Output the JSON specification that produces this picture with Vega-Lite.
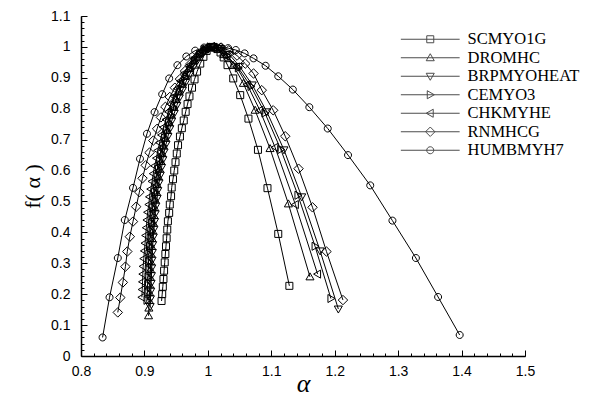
{
  "$schema": "https://vega.github.io/schema/vega-lite/v6.json",
  "width": 444,
  "height": 340,
  "autosize": "none",
  "padding": {"left": 81, "top": 16, "right": 85, "bottom": 43},
  "background": "white",
  "config": {"view": {"stroke": null}},
  "data": {"values": [
    {"s":"SCMYO1G","a":0.927,"f":0.178},{"s":"SCMYO1G","a":0.928,"f":0.200},{"s":"SCMYO1G","a":0.929,"f":0.224},{"s":"SCMYO1G","a":0.930,"f":0.249},{"s":"SCMYO1G","a":0.931,"f":0.276},{"s":"SCMYO1G","a":0.932,"f":0.303},{"s":"SCMYO1G","a":0.933,"f":0.330},{"s":"SCMYO1G","a":0.934,"f":0.355},{"s":"SCMYO1G","a":0.935,"f":0.381},{"s":"SCMYO1G","a":0.936,"f":0.409},{"s":"SCMYO1G","a":0.937,"f":0.436},{"s":"SCMYO1G","a":0.939,"f":0.463},{"s":"SCMYO1G","a":0.940,"f":0.490},{"s":"SCMYO1G","a":0.942,"f":0.517},{"s":"SCMYO1G","a":0.943,"f":0.545},{"s":"SCMYO1G","a":0.945,"f":0.572},{"s":"SCMYO1G","a":0.947,"f":0.600},{"s":"SCMYO1G","a":0.949,"f":0.627},{"s":"SCMYO1G","a":0.951,"f":0.655},{"s":"SCMYO1G","a":0.953,"f":0.682},{"s":"SCMYO1G","a":0.956,"f":0.710},{"s":"SCMYO1G","a":0.959,"f":0.737},{"s":"SCMYO1G","a":0.962,"f":0.762},{"s":"SCMYO1G","a":0.965,"f":0.790},{"s":"SCMYO1G","a":0.968,"f":0.815},{"s":"SCMYO1G","a":0.971,"f":0.840},{"s":"SCMYO1G","a":0.975,"f":0.868},{"s":"SCMYO1G","a":0.979,"f":0.895},{"s":"SCMYO1G","a":0.983,"f":0.920},{"s":"SCMYO1G","a":0.988,"f":0.946},{"s":"SCMYO1G","a":0.993,"f":0.968},{"s":"SCMYO1G","a":0.998,"f":0.987},{"s":"SCMYO1G","a":1.003,"f":0.998},{"s":"SCMYO1G","a":1.009,"f":1.000},{"s":"SCMYO1G","a":1.015,"f":0.993},{"s":"SCMYO1G","a":1.020,"f":0.982},{"s":"SCMYO1G","a":1.025,"f":0.966},{"s":"SCMYO1G","a":1.031,"f":0.941},{"s":"SCMYO1G","a":1.040,"f":0.898},{"s":"SCMYO1G","a":1.051,"f":0.844},{"s":"SCMYO1G","a":1.064,"f":0.768},{"s":"SCMYO1G","a":1.079,"f":0.667},{"s":"SCMYO1G","a":1.094,"f":0.543},{"s":"SCMYO1G","a":1.111,"f":0.395},{"s":"SCMYO1G","a":1.1285,"f":0.227},

    {"s":"DROMHC","a":0.9065,"f":0.130},{"s":"DROMHC","a":0.907,"f":0.155},{"s":"DROMHC","a":0.9075,"f":0.180},{"s":"DROMHC","a":0.908,"f":0.205},{"s":"DROMHC","a":0.9085,"f":0.230},{"s":"DROMHC","a":0.909,"f":0.255},{"s":"DROMHC","a":0.9095,"f":0.280},{"s":"DROMHC","a":0.910,"f":0.305},{"s":"DROMHC","a":0.9105,"f":0.330},{"s":"DROMHC","a":0.911,"f":0.355},{"s":"DROMHC","a":0.912,"f":0.380},{"s":"DROMHC","a":0.913,"f":0.405},{"s":"DROMHC","a":0.914,"f":0.430},{"s":"DROMHC","a":0.915,"f":0.455},{"s":"DROMHC","a":0.916,"f":0.480},{"s":"DROMHC","a":0.917,"f":0.505},{"s":"DROMHC","a":0.919,"f":0.530},{"s":"DROMHC","a":0.920,"f":0.555},{"s":"DROMHC","a":0.922,"f":0.580},{"s":"DROMHC","a":0.924,"f":0.605},{"s":"DROMHC","a":0.926,"f":0.630},{"s":"DROMHC","a":0.928,"f":0.655},{"s":"DROMHC","a":0.930,"f":0.680},{"s":"DROMHC","a":0.933,"f":0.705},{"s":"DROMHC","a":0.936,"f":0.730},{"s":"DROMHC","a":0.939,"f":0.755},{"s":"DROMHC","a":0.942,"f":0.780},{"s":"DROMHC","a":0.946,"f":0.805},{"s":"DROMHC","a":0.950,"f":0.830},{"s":"DROMHC","a":0.954,"f":0.855},{"s":"DROMHC","a":0.959,"f":0.880},{"s":"DROMHC","a":0.964,"f":0.905},{"s":"DROMHC","a":0.970,"f":0.930},{"s":"DROMHC","a":0.977,"f":0.955},{"s":"DROMHC","a":0.985,"f":0.977},{"s":"DROMHC","a":0.993,"f":0.993},{"s":"DROMHC","a":1.002,"f":1.000},{"s":"DROMHC","a":1.012,"f":0.996},{"s":"DROMHC","a":1.025,"f":0.975},{"s":"DROMHC","a":1.040,"f":0.940},{"s":"DROMHC","a":1.056,"f":0.882},{"s":"DROMHC","a":1.0745,"f":0.795},{"s":"DROMHC","a":1.098,"f":0.671},{"s":"DROMHC","a":1.127,"f":0.492},{"s":"DROMHC","a":1.161,"f":0.256},

    {"s":"BRPMYOHEAT","a":0.909,"f":0.160},{"s":"BRPMYOHEAT","a":0.9095,"f":0.185},{"s":"BRPMYOHEAT","a":0.910,"f":0.210},{"s":"BRPMYOHEAT","a":0.9105,"f":0.235},{"s":"BRPMYOHEAT","a":0.911,"f":0.260},{"s":"BRPMYOHEAT","a":0.9115,"f":0.285},{"s":"BRPMYOHEAT","a":0.912,"f":0.310},{"s":"BRPMYOHEAT","a":0.9125,"f":0.335},{"s":"BRPMYOHEAT","a":0.913,"f":0.360},{"s":"BRPMYOHEAT","a":0.914,"f":0.385},{"s":"BRPMYOHEAT","a":0.915,"f":0.410},{"s":"BRPMYOHEAT","a":0.916,"f":0.435},{"s":"BRPMYOHEAT","a":0.917,"f":0.460},{"s":"BRPMYOHEAT","a":0.918,"f":0.485},{"s":"BRPMYOHEAT","a":0.920,"f":0.510},{"s":"BRPMYOHEAT","a":0.921,"f":0.535},{"s":"BRPMYOHEAT","a":0.923,"f":0.560},{"s":"BRPMYOHEAT","a":0.925,"f":0.585},{"s":"BRPMYOHEAT","a":0.927,"f":0.610},{"s":"BRPMYOHEAT","a":0.929,"f":0.635},{"s":"BRPMYOHEAT","a":0.931,"f":0.660},{"s":"BRPMYOHEAT","a":0.934,"f":0.685},{"s":"BRPMYOHEAT","a":0.937,"f":0.710},{"s":"BRPMYOHEAT","a":0.940,"f":0.735},{"s":"BRPMYOHEAT","a":0.943,"f":0.760},{"s":"BRPMYOHEAT","a":0.947,"f":0.785},{"s":"BRPMYOHEAT","a":0.951,"f":0.810},{"s":"BRPMYOHEAT","a":0.955,"f":0.835},{"s":"BRPMYOHEAT","a":0.960,"f":0.860},{"s":"BRPMYOHEAT","a":0.965,"f":0.885},{"s":"BRPMYOHEAT","a":0.971,"f":0.910},{"s":"BRPMYOHEAT","a":0.977,"f":0.935},{"s":"BRPMYOHEAT","a":0.984,"f":0.958},{"s":"BRPMYOHEAT","a":0.992,"f":0.979},{"s":"BRPMYOHEAT","a":1.000,"f":0.993},{"s":"BRPMYOHEAT","a":1.009,"f":1.000},{"s":"BRPMYOHEAT","a":1.020,"f":0.995},{"s":"BRPMYOHEAT","a":1.034,"f":0.975},{"s":"BRPMYOHEAT","a":1.050,"f":0.937},{"s":"BRPMYOHEAT","a":1.070,"f":0.877},{"s":"BRPMYOHEAT","a":1.093,"f":0.790},{"s":"BRPMYOHEAT","a":1.120,"f":0.667},{"s":"BRPMYOHEAT","a":1.148,"f":0.515},{"s":"BRPMYOHEAT","a":1.177,"f":0.340},{"s":"BRPMYOHEAT","a":1.2057,"f":0.152},

    {"s":"CEMYO3","a":0.904,"f":0.180},{"s":"CEMYO3","a":0.9045,"f":0.205},{"s":"CEMYO3","a":0.905,"f":0.230},{"s":"CEMYO3","a":0.9055,"f":0.255},{"s":"CEMYO3","a":0.906,"f":0.280},{"s":"CEMYO3","a":0.9065,"f":0.305},{"s":"CEMYO3","a":0.907,"f":0.330},{"s":"CEMYO3","a":0.908,"f":0.355},{"s":"CEMYO3","a":0.909,"f":0.380},{"s":"CEMYO3","a":0.910,"f":0.405},{"s":"CEMYO3","a":0.911,"f":0.430},{"s":"CEMYO3","a":0.912,"f":0.455},{"s":"CEMYO3","a":0.913,"f":0.480},{"s":"CEMYO3","a":0.915,"f":0.505},{"s":"CEMYO3","a":0.916,"f":0.530},{"s":"CEMYO3","a":0.918,"f":0.555},{"s":"CEMYO3","a":0.920,"f":0.580},{"s":"CEMYO3","a":0.922,"f":0.605},{"s":"CEMYO3","a":0.924,"f":0.630},{"s":"CEMYO3","a":0.926,"f":0.655},{"s":"CEMYO3","a":0.929,"f":0.680},{"s":"CEMYO3","a":0.932,"f":0.705},{"s":"CEMYO3","a":0.935,"f":0.730},{"s":"CEMYO3","a":0.938,"f":0.755},{"s":"CEMYO3","a":0.942,"f":0.780},{"s":"CEMYO3","a":0.946,"f":0.805},{"s":"CEMYO3","a":0.950,"f":0.830},{"s":"CEMYO3","a":0.955,"f":0.855},{"s":"CEMYO3","a":0.960,"f":0.880},{"s":"CEMYO3","a":0.966,"f":0.905},{"s":"CEMYO3","a":0.972,"f":0.930},{"s":"CEMYO3","a":0.979,"f":0.955},{"s":"CEMYO3","a":0.987,"f":0.976},{"s":"CEMYO3","a":0.995,"f":0.992},{"s":"CEMYO3","a":1.004,"f":1.000},{"s":"CEMYO3","a":1.015,"f":0.995},{"s":"CEMYO3","a":1.030,"f":0.972},{"s":"CEMYO3","a":1.048,"f":0.932},{"s":"CEMYO3","a":1.068,"f":0.872},{"s":"CEMYO3","a":1.090,"f":0.786},{"s":"CEMYO3","a":1.115,"f":0.668},{"s":"CEMYO3","a":1.142,"f":0.520},{"s":"CEMYO3","a":1.169,"f":0.355},{"s":"CEMYO3","a":1.194,"f":0.186},

    {"s":"CHKMYHE","a":0.896,"f":0.190},{"s":"CHKMYHE","a":0.8965,"f":0.215},{"s":"CHKMYHE","a":0.897,"f":0.240},{"s":"CHKMYHE","a":0.8975,"f":0.265},{"s":"CHKMYHE","a":0.898,"f":0.290},{"s":"CHKMYHE","a":0.899,"f":0.315},{"s":"CHKMYHE","a":0.900,"f":0.340},{"s":"CHKMYHE","a":0.901,"f":0.365},{"s":"CHKMYHE","a":0.902,"f":0.390},{"s":"CHKMYHE","a":0.903,"f":0.415},{"s":"CHKMYHE","a":0.904,"f":0.440},{"s":"CHKMYHE","a":0.905,"f":0.465},{"s":"CHKMYHE","a":0.907,"f":0.490},{"s":"CHKMYHE","a":0.908,"f":0.515},{"s":"CHKMYHE","a":0.910,"f":0.540},{"s":"CHKMYHE","a":0.912,"f":0.565},{"s":"CHKMYHE","a":0.914,"f":0.590},{"s":"CHKMYHE","a":0.916,"f":0.615},{"s":"CHKMYHE","a":0.919,"f":0.640},{"s":"CHKMYHE","a":0.921,"f":0.665},{"s":"CHKMYHE","a":0.924,"f":0.690},{"s":"CHKMYHE","a":0.927,"f":0.715},{"s":"CHKMYHE","a":0.930,"f":0.740},{"s":"CHKMYHE","a":0.934,"f":0.765},{"s":"CHKMYHE","a":0.938,"f":0.790},{"s":"CHKMYHE","a":0.942,"f":0.815},{"s":"CHKMYHE","a":0.947,"f":0.840},{"s":"CHKMYHE","a":0.952,"f":0.865},{"s":"CHKMYHE","a":0.957,"f":0.890},{"s":"CHKMYHE","a":0.963,"f":0.915},{"s":"CHKMYHE","a":0.970,"f":0.940},{"s":"CHKMYHE","a":0.978,"f":0.963},{"s":"CHKMYHE","a":0.987,"f":0.982},{"s":"CHKMYHE","a":0.996,"f":0.996},{"s":"CHKMYHE","a":1.006,"f":1.000},{"s":"CHKMYHE","a":1.018,"f":0.990},{"s":"CHKMYHE","a":1.030,"f":0.970},{"s":"CHKMYHE","a":1.045,"f":0.935},{"s":"CHKMYHE","a":1.062,"f":0.878},{"s":"CHKMYHE","a":1.082,"f":0.795},{"s":"CHKMYHE","a":1.106,"f":0.675},{"s":"CHKMYHE","a":1.138,"f":0.490},{"s":"CHKMYHE","a":1.173,"f":0.265},

    {"s":"RNMHCG","a":0.858,"f":0.141},{"s":"RNMHCG","a":0.862,"f":0.189},{"s":"RNMHCG","a":0.866,"f":0.238},{"s":"RNMHCG","a":0.870,"f":0.289},{"s":"RNMHCG","a":0.873,"f":0.338},{"s":"RNMHCG","a":0.877,"f":0.386},{"s":"RNMHCG","a":0.882,"f":0.435},{"s":"RNMHCG","a":0.887,"f":0.483},{"s":"RNMHCG","a":0.892,"f":0.530},{"s":"RNMHCG","a":0.897,"f":0.575},{"s":"RNMHCG","a":0.902,"f":0.617},{"s":"RNMHCG","a":0.908,"f":0.658},{"s":"RNMHCG","a":0.914,"f":0.697},{"s":"RNMHCG","a":0.920,"f":0.735},{"s":"RNMHCG","a":0.926,"f":0.772},{"s":"RNMHCG","a":0.933,"f":0.806},{"s":"RNMHCG","a":0.940,"f":0.838},{"s":"RNMHCG","a":0.948,"f":0.868},{"s":"RNMHCG","a":0.956,"f":0.896},{"s":"RNMHCG","a":0.964,"f":0.922},{"s":"RNMHCG","a":0.973,"f":0.946},{"s":"RNMHCG","a":0.982,"f":0.966},{"s":"RNMHCG","a":0.991,"f":0.983},{"s":"RNMHCG","a":1.000,"f":0.995},{"s":"RNMHCG","a":1.010,"f":1.000},{"s":"RNMHCG","a":1.021,"f":0.998},{"s":"RNMHCG","a":1.033,"f":0.989},{"s":"RNMHCG","a":1.046,"f":0.972},{"s":"RNMHCG","a":1.059,"f":0.946},{"s":"RNMHCG","a":1.072,"f":0.914},{"s":"RNMHCG","a":1.085,"f":0.860},{"s":"RNMHCG","a":1.103,"f":0.795},{"s":"RNMHCG","a":1.122,"f":0.711},{"s":"RNMHCG","a":1.143,"f":0.606},{"s":"RNMHCG","a":1.165,"f":0.481},{"s":"RNMHCG","a":1.187,"f":0.338},{"s":"RNMHCG","a":1.213,"f":0.181},

    {"s":"HUMBMYH7","a":0.834,"f":0.060},{"s":"HUMBMYH7","a":0.845,"f":0.190},{"s":"HUMBMYH7","a":0.858,"f":0.317},{"s":"HUMBMYH7","a":0.869,"f":0.440},{"s":"HUMBMYH7","a":0.882,"f":0.544},{"s":"HUMBMYH7","a":0.893,"f":0.638},{"s":"HUMBMYH7","a":0.904,"f":0.719},{"s":"HUMBMYH7","a":0.916,"f":0.789},{"s":"HUMBMYH7","a":0.928,"f":0.847},{"s":"HUMBMYH7","a":0.939,"f":0.898},{"s":"HUMBMYH7","a":0.952,"f":0.941},{"s":"HUMBMYH7","a":0.966,"f":0.969},{"s":"HUMBMYH7","a":0.980,"f":0.988},{"s":"HUMBMYH7","a":0.994,"f":0.998},{"s":"HUMBMYH7","a":1.007,"f":1.000},{"s":"HUMBMYH7","a":1.020,"f":0.999},{"s":"HUMBMYH7","a":1.032,"f":0.996},{"s":"HUMBMYH7","a":1.044,"f":0.990},{"s":"HUMBMYH7","a":1.058,"f":0.979},{"s":"HUMBMYH7","a":1.072,"f":0.963},{"s":"HUMBMYH7","a":1.091,"f":0.939},{"s":"HUMBMYH7","a":1.111,"f":0.905},{"s":"HUMBMYH7","a":1.134,"f":0.862},{"s":"HUMBMYH7","a":1.160,"f":0.805},{"s":"HUMBMYH7","a":1.189,"f":0.736},{"s":"HUMBMYH7","a":1.221,"f":0.650},{"s":"HUMBMYH7","a":1.256,"f":0.552},{"s":"HUMBMYH7","a":1.291,"f":0.438},{"s":"HUMBMYH7","a":1.328,"f":0.317},{"s":"HUMBMYH7","a":1.363,"f":0.191},{"s":"HUMBMYH7","a":1.397,"f":0.068}
  ]},
  "resolve": {
    "scale": {"shape": "independent"},
    "axis": {"x": "independent", "y": "independent"}
  },
  "layer": [
    {
      "mark": {"type": "line", "color": "black", "strokeWidth": 1},
      "encoding": {
        "x": {"field": "a", "type": "quantitative",
          "scale": {"domain": [0.8, 1.5], "nice": false, "zero": false},
          "axis": {"orient": "bottom", "values": [0.8,0.82,0.84,0.86,0.88,0.9,0.92,0.94,0.96,0.98,1,1.02,1.04,1.06,1.08,1.1,1.12,1.14,1.16,1.18,1.2,1.22,1.24,1.26,1.28,1.3,1.32,1.34,1.36,1.38,1.4,1.42,1.44,1.46,1.48,1.5],
            "labels": false, "domain": false, "grid": false, "title": null, "tickSize": -3, "tickColor": "black", "tickWidth": 1}},
        "y": {"field": "f", "type": "quantitative",
          "scale": {"domain": [0, 1.1], "nice": false, "zero": false},
          "axis": {"orient": "left", "values": [0,0.02,0.04,0.06,0.08,0.1,0.12,0.14,0.16,0.18,0.2,0.22,0.24,0.26,0.28,0.3,0.32,0.34,0.36,0.38,0.4,0.42,0.44,0.46,0.48,0.5,0.52,0.54,0.56,0.58,0.6,0.62,0.64,0.66,0.68,0.7,0.72,0.74,0.76,0.78,0.8,0.82,0.84,0.86,0.88,0.9,0.92,0.94,0.96,0.98,1,1.02,1.04,1.06,1.08,1.1],
            "labels": false, "domain": false, "grid": false, "title": null, "tickSize": -3, "tickColor": "black", "tickWidth": 1}},
        "detail": {"field": "s", "type": "nominal"}
      }
    },
    {
      "mark": {"type": "point", "filled": false, "color": "black", "strokeWidth": 1, "size": 49, "opacity": 1},
      "encoding": {
        "x": {"field": "a", "type": "quantitative",
          "scale": {"domain": [0.8, 1.5], "nice": false, "zero": false},
          "axis": {"orient": "bottom", "values": [0.8,0.9,1,1.1,1.2,1.3,1.4,1.5], "format": "~g",
            "grid": false, "tickSize": -6, "tickColor": "black", "tickWidth": 1,
            "domainColor": "black", "domainWidth": 1.5,
            "labelFont": "Liberation Sans", "labelFontSize": 14, "labelColor": "black", "labelPadding": 14, "labelFlush": false,
            "title": "α", "titleFont": "Liberation Serif", "titleFontStyle": "italic", "titleFontWeight": "normal", "titleFontSize": 26, "titleColor": "black", "titlePadding": -8}},
        "y": {"field": "f", "type": "quantitative",
          "scale": {"domain": [0, 1.1], "nice": false, "zero": false},
          "axis": {"orient": "left", "values": [0,0.1,0.2,0.3,0.4,0.5,0.6,0.7,0.8,0.9,1,1.1], "format": "~g",
            "grid": false, "tickSize": -6, "tickColor": "black", "tickWidth": 1,
            "domainColor": "black", "domainWidth": 1.5,
            "labelFont": "Liberation Sans", "labelFontSize": 14, "labelColor": "black", "labelPadding": 17, "labelFlush": false,
            "title": "f( α )", "titleFont": "Liberation Serif", "titleFontWeight": "normal", "titleFontSize": 22, "titleColor": "black", "titlePadding": 6}},
        "shape": {"field": "s", "type": "nominal",
          "scale": {"domain": ["SCMYO1G","DROMHC","BRPMYOHEAT","CEMYO3","CHKMYHE","RNMHCG","HUMBMYH7"],
            "range": ["M-1,-1H1V1H-1Z", "M0,-1.15L1.15,0.85H-1.15Z", "M0,1.15L1.15,-0.85H-1.15Z", "M1.15,0L-0.85,-1.15V1.15Z", "M-1.15,0L0.85,-1.15V1.15Z", "M0,-1.35L1.35,0L0,1.35L-1.35,0Z", "M-1,0A1,1,0,1,1,1,0A1,1,0,1,1,-1,0Z"]},
          "legend": null}
      }
    },
    {
      "transform": [{"filter": "false"}],
      "mark": {"type": "point", "filled": false, "color": "black", "strokeWidth": 1, "size": 49},
      "encoding": {
        "shape": {"field": "s", "type": "nominal",
          "scale": {"domain": ["SCMYO1G","DROMHC","BRPMYOHEAT","CEMYO3","CHKMYHE","RNMHCG","HUMBMYH7"],
            "range": ["M-8.4,0H8.4M-1,-1H1V1H-1Z", "M-8.4,0H8.4M0,-1.15L1.15,0.85H-1.15Z", "M-8.4,0H8.4M0,1.15L1.15,-0.85H-1.15Z", "M-8.4,0H8.4M1.15,0L-0.85,-1.15V1.15Z", "M-8.4,0H8.4M-1.15,0L0.85,-1.15V1.15Z", "M-8.4,0H8.4M0,-1.35L1.35,0L0,1.35L-1.35,0Z", "M-8.4,0H8.4M-1,0A1,1,0,1,1,1,0A1,1,0,1,1,-1,0Z"]},
          "legend": {"orient": "none", "legendX": 341, "legendY": 15, "title": null, "padding": 0,
            "labelFont": "Liberation Serif", "labelFontSize": 16.5, "labelColor": "black", "labelOffset": 29, "labelLimit": 300,
            "rowPadding": 1.5, "symbolSize": 49, "symbolStrokeWidth": 1, "symbolStrokeColor": "black", "symbolFillColor": "transparent"}}
      }
    }
  ]
}
